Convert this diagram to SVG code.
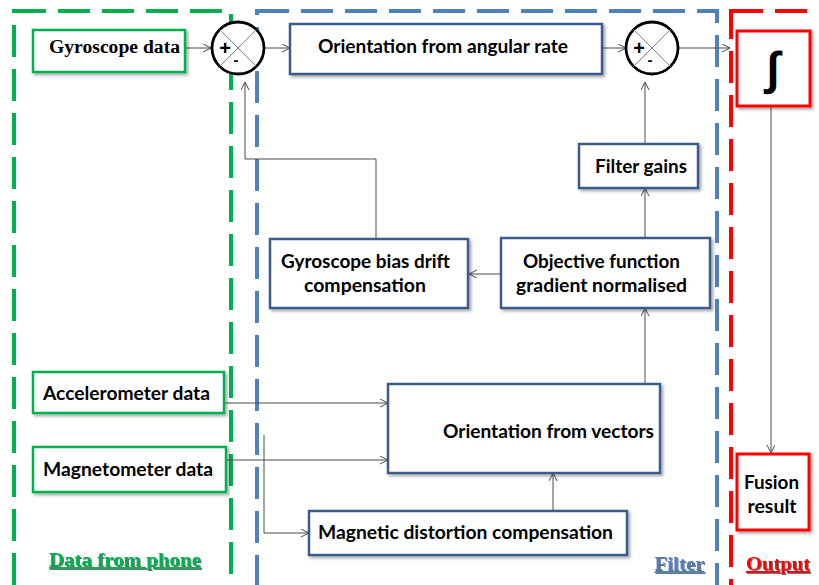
<svg xmlns="http://www.w3.org/2000/svg" width="819" height="585" viewBox="0 0 819 585">
<defs>
  <filter id="sh" x="-10%" y="-10%" width="130%" height="140%">
    <feDropShadow dx="2" dy="2" stdDeviation="1.5" flood-color="#000" flood-opacity="0.35"/>
  </filter>
  <filter id="tsh" x="-5%" y="-20%" width="115%" height="150%">
    <feDropShadow dx="1" dy="1" stdDeviation="0.6" flood-color="#000" flood-opacity="0.6"/>
  </filter>
  <marker id="arr" markerWidth="10" markerHeight="10" refX="8" refY="4" orient="auto" markerUnits="userSpaceOnUse" viewBox="0 0 10 10">
    <path d="M0,0 L8,4 L0,8" fill="none" stroke="#4a4a4a" stroke-width="1"/>
  </marker>
</defs>
<style>
  .region { fill: none; stroke-width: 4; stroke-dasharray: 32 12; }
  .gbox { fill: #fff; stroke: #00B050; stroke-width: 2.5; filter: url(#sh); }
  .bbox { fill: #fff; stroke: #385D8A; stroke-width: 2.5; filter: url(#sh); }
  .rbox { fill: #fff; stroke: #FF0000; stroke-width: 3; filter: url(#sh); }
  .t { font-family: Lato, "Liberation Sans", Arial, sans-serif; font-weight: bold; font-size: 18px; fill: #000; text-anchor: middle; }
  .ts { font-family: "Liberation Serif", "Times New Roman", serif; font-weight: bold; font-size: 18px; fill: #000; text-anchor: middle; }
  .lab { font-family: "Liberation Serif", "Times New Roman", serif; font-weight: bold; font-size: 19px; text-anchor: middle; text-decoration: underline; filter: url(#tsh); }
  .sum { fill: #fff; stroke: #000; stroke-width: 2.8; }
  .x { stroke: #808080; stroke-width: 1; }
  .sign { font-family: "Liberation Sans", Arial, sans-serif; font-weight: bold; fill: #000; text-anchor: middle; }
  .c { fill: none; stroke: #4a4a4a; stroke-width: 1; marker-end: url(#arr); }
</style>
<rect width="819" height="585" fill="#fff"/>

<g id="regions">
  <rect id="region-phone" class="region" x="14" y="11" width="217" height="576" stroke="#00B050"/>
  <rect id="region-filter" class="region" x="257" y="11" width="460" height="576" stroke="#4F81BD"/>
  <rect id="region-output" class="region" x="731" y="11" width="120" height="576" stroke="#FF0000"/>
</g>

<g id="connectors">
  <path class="c" d="M185,48 H211"/>
  <path class="c" d="M265,48 H290"/>
  <path class="c" d="M602,48 H626"/>
  <path class="c" d="M679,48 H730"/>
  <path class="c" d="M771,106 V453"/>
  <path class="c" d="M645,144 V82"/>
  <path class="c" d="M645,238 V188"/>
  <path class="c" d="M501,274 H469"/>
  <path class="c" d="M376,239 V159 H245 V82"/>
  <path class="c" d="M645,384 V308"/>
  <path class="c" d="M224,403 H388"/>
  <path class="c" d="M226,460 H388"/>
  <path class="c" d="M264,435 V533 H309"/>
  <path class="c" d="M553,511 V473"/>
</g>

<g id="gyro-data">
  <rect class="gbox" x="33" y="30" width="152" height="42"/>
  <text class="ts" x="114.5" y="53" textLength="131" lengthAdjust="spacingAndGlyphs">Gyroscope data</text>
</g>

<g id="sum1">
  <circle class="sum" cx="238" cy="48" r="26"/>
  <line class="x" x1="219.6" y1="29.6" x2="256.4" y2="66.4"/>
  <line class="x" x1="256.4" y1="29.6" x2="219.6" y2="66.4"/>
  <text class="sign" x="225" y="55" font-size="20">+</text>
  <text class="sign" x="236" y="65" font-size="15">-</text>
</g>

<g id="orient-rate">
  <rect class="bbox" x="290" y="24" width="312" height="50"/>
  <text class="t" x="443" y="53" textLength="250" lengthAdjust="spacingAndGlyphs">Orientation from angular rate</text>
</g>

<g id="sum2">
  <circle class="sum" cx="652" cy="48" r="26"/>
  <line class="x" x1="633.6" y1="29.6" x2="670.4" y2="66.4"/>
  <line class="x" x1="670.4" y1="29.6" x2="633.6" y2="66.4"/>
  <text class="sign" x="639" y="55" font-size="20">+</text>
  <text class="sign" x="650" y="65" font-size="15">-</text>
</g>

<g id="integral">
  <rect class="rbox" x="737" y="31" width="73" height="75"/>
  <text x="773" y="84" font-family="Liberation Sans, Arial, sans-serif" font-weight="bold" font-size="46" text-anchor="middle" fill="#000">∫</text>
</g>

<g id="fusion">
  <rect class="rbox" x="737" y="454" width="72" height="76"/>
  <text class="t" x="771.5" y="489" textLength="55" lengthAdjust="spacingAndGlyphs">Fusion</text>
  <text class="t" x="772" y="513" textLength="49" lengthAdjust="spacingAndGlyphs">result</text>
</g>

<g id="filter-gains">
  <rect class="bbox" x="579" y="144" width="119" height="44"/>
  <text class="t" x="641" y="173" textLength="92" lengthAdjust="spacingAndGlyphs">Filter gains</text>
</g>

<g id="objective">
  <rect class="bbox" x="501" y="238" width="209" height="70"/>
  <text class="t" x="601.5" y="268" textLength="157" lengthAdjust="spacingAndGlyphs">Objective function</text>
  <text class="t" x="601.5" y="292" textLength="171" lengthAdjust="spacingAndGlyphs">gradient normalised</text>
</g>

<g id="bias">
  <rect class="bbox" x="270" y="239" width="198" height="69"/>
  <text class="t" x="365.5" y="268" textLength="169" lengthAdjust="spacingAndGlyphs">Gyroscope bias drift</text>
  <text class="t" x="365" y="292" textLength="122" lengthAdjust="spacingAndGlyphs">compensation</text>
</g>

<g id="accel-data">
  <rect class="gbox" x="33" y="372" width="191" height="41"/>
  <text class="t" x="126.5" y="400" textLength="167" lengthAdjust="spacingAndGlyphs">Accelerometer data</text>
</g>

<g id="mag-data">
  <rect class="gbox" x="33" y="447" width="193" height="45"/>
  <text class="t" x="128" y="476" textLength="170" lengthAdjust="spacingAndGlyphs">Magnetometer data</text>
</g>

<g id="orient-vectors">
  <rect class="bbox" x="388" y="384" width="272" height="89"/>
  <text class="t" x="548.5" y="438" textLength="211" lengthAdjust="spacingAndGlyphs">Orientation from vectors</text>
</g>

<g id="mag-distortion">
  <rect class="bbox" x="309" y="511" width="318" height="44"/>
  <text class="t" x="465.5" y="539" textLength="295" lengthAdjust="spacingAndGlyphs">Magnetic distortion compensation</text>
</g>

<g id="labels">
  <text class="lab" x="125" y="566" fill="#00B050" textLength="152" lengthAdjust="spacingAndGlyphs">Data from phone</text>
  <text class="lab" x="679.5" y="570" fill="#4F81BD" textLength="50" lengthAdjust="spacingAndGlyphs">Filter</text>
  <text class="lab" x="778" y="570" fill="#FF0000" textLength="64" lengthAdjust="spacingAndGlyphs">Output</text>
</g>
</svg>
